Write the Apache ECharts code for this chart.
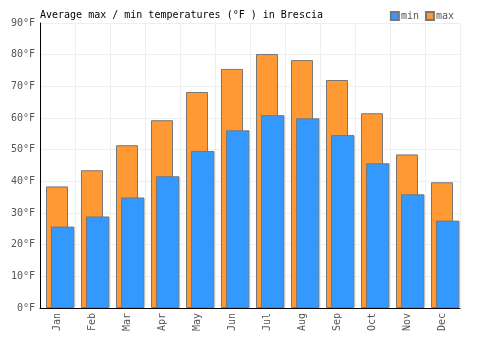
<!DOCTYPE html>
<html>
<head>
<meta charset="utf-8">
<script src="https://cdn.jsdelivr.net/npm/echarts@6/dist/echarts.min.js"></script>
<style>
    html, body { margin: 0; padding: 0; background: #fff; }
    #chart { width: 500px; height: 350px; }
</style>
</head>
<body>
<div id="chart"></div>
<script>
var months = ['Jan', 'Feb', 'Mar', 'Apr', 'May', 'Jun', 'Jul', 'Aug', 'Sep', 'Oct', 'Nov', 'Dec']
var maxTemps = [38.4, 43.5, 51.4, 59.3, 68.2, 75.5, 80.2, 78.3, 72.0, 61.5, 48.5, 39.7]
var minTemps = [25.7, 28.9, 34.9, 41.6, 49.6, 56.1, 60.9, 59.9, 54.6, 45.7, 35.9, 27.6]

var font = 'DejaVu Sans Mono'
var gap = '-77.3%'

var dom = echarts.init(document.getElementById('chart'))
dom.setOption({
    animation: false,
    title: {
        text: 'Average max / min temperatures (°F ) in Brescia',
        left: 35,
        top: 5,
        textStyle: { fontFamily: font, fontSize: 10, fontWeight: 'normal', color: '#000' }
    },
    legend: {
        data: ['min', 'max'],
        right: 41,
        top: 6,
        icon: 'rect',
        itemWidth: 8,
        itemHeight: 8,
        itemGap: 6,
        textStyle: { fontFamily: font, fontSize: 10, color: '#555', padding: [0, 0, 0, -3] }
    },
    grid: { left: 40, right: 40, top: 23, bottom: 42 },
    xAxis: {
        type: 'category',
        data: months,
        axisLine: { lineStyle: { color: '#000' } },
        axisTick: { show: false },
        splitLine: { show: true, lineStyle: { color: '#eee' } },
        axisLabel: { rotate: 90, margin: 5, fontFamily: font, fontSize: 10, color: '#555' }
    },
    yAxis: {
        type: 'value',
        min: 0,
        max: 90,
        interval: 10,
        axisLine: { show: true, lineStyle: { color: '#000' } },
        axisTick: { show: false },
        splitLine: { lineStyle: { color: '#eee' } },
        axisLabel: { formatter: '{value}°F', margin: 5, fontFamily: font, fontSize: 10, color: '#555' }
    },
    series: [
        {
            name: 'max',
            type: 'bar',
            data: maxTemps,
            barWidth: 22,
            barGap: gap,
            itemStyle: { color: '#ff9933', borderColor: '#777', borderWidth: 1 }
        },
        {
            name: 'min',
            type: 'bar',
            data: minTemps,
            barWidth: 23.5,
            barGap: gap,
            itemStyle: { color: '#3399ff', borderColor: '#777', borderWidth: 1 }
        },
        {
            // empty spacer, shifts the pair to the right like the original
            name: 'spacer',
            type: 'bar',
            data: [],
            barWidth: 12.7,
            barGap: gap
        }
    ]
})
</script>
</body>
</html>
